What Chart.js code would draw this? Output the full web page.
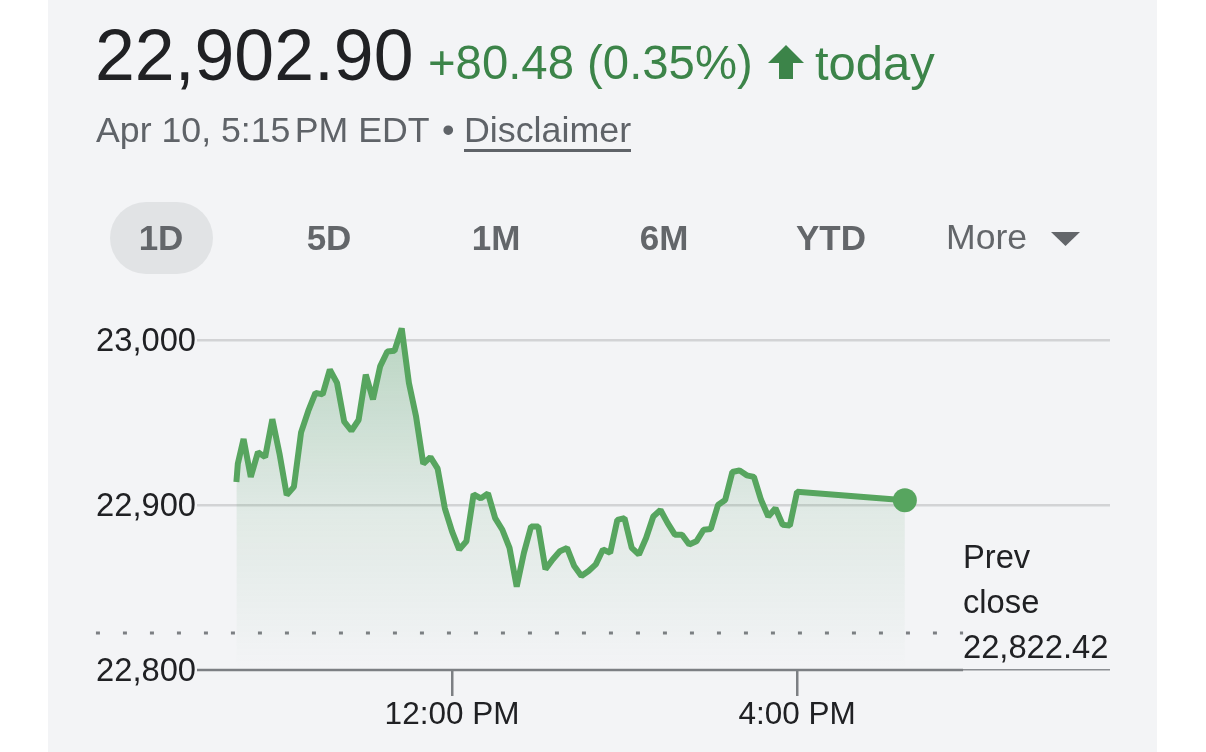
<!DOCTYPE html>
<html><head><meta charset="utf-8">
<script src="https://cdn.jsdelivr.net/npm/chart.js@4"></script>
<style>
html,body{margin:0;padding:0;background:#fff;width:1206px;height:752px;overflow:hidden}
#panel{position:absolute;left:48px;top:0;width:1109px;height:752px;background:#f3f4f6}
#c{position:absolute;left:0;top:0}
.t{position:absolute;font-family:"Liberation Sans",Arial,sans-serif;line-height:1;white-space:nowrap}
.g{color:#3c8449}.s{color:#5f6368}.b{font-weight:700;color:#63666a}
</style></head><body>
<div id="panel"></div>
<canvas id="c" width="1206" height="752"></canvas>
<div class="t" style="left:95px;top:20px;font-size:71.6px;color:#202124">22,902.90</div>
<div class="t g" style="left:428px;top:39px;font-size:47.3px">+80.48 (0.35%)</div>
<svg style="position:absolute;left:768px;top:44px" width="36" height="36"><polygon points="18,1 36,19 25,19 25,35 11,35 11,19 0,19" fill="#3c8449"/></svg>
<div class="t g" style="left:815px;top:39px;font-size:49px">today</div>
<div class="t s" style="left:96px;top:113px;font-size:35.7px">Apr 10, 5:15<span style="margin-left:.12em">PM</span> EDT</div>
<div class="t s" style="left:442px;top:113px;font-size:35.7px">•</div>
<div class="t s" style="left:464px;top:113px;font-size:35.8px;border-bottom:3px solid #5f6368;padding-bottom:0">Disclaimer</div>
<div style="position:absolute;left:110px;top:202px;width:103px;height:72px;border-radius:36px;background:#e1e3e5"></div>
<div class="t b" style="left:111px;width:100px;text-align:center;top:220px;font-size:35px">1D</div>
<div class="t b" style="left:279px;width:100px;text-align:center;top:220px;font-size:35px">5D</div>
<div class="t b" style="left:446px;width:100px;text-align:center;top:220px;font-size:35px">1M</div>
<div class="t b" style="left:614px;width:100px;text-align:center;top:220px;font-size:35px">6M</div>
<div class="t b" style="left:781px;width:100px;text-align:center;top:220px;font-size:35px">YTD</div>
<div class="t" style="left:946px;top:220px;font-size:35.6px;color:#63666a">More</div>
<svg style="position:absolute;left:1051px;top:232px" width="30" height="15"><polygon points="0,0 29,0 14.5,14" fill="#63666a"/></svg>
<div class="t" style="left:963px;top:541px;font-size:32.7px;color:#202124">Prev</div>
<div class="t" style="left:963px;top:586px;font-size:32.7px;color:#202124">close</div>
<div class="t" style="left:963px;top:631px;font-size:32.7px;color:#202124">22,822.42</div>
<script>
// minutes after the 9:30 AM open
const minutes = [0,1,5,10,15,20,25,30,35,40,45,50,55,60,65,70,75,80,85,90,95,100,105,110,115,120,125,130,135,140,145,150,155,160,165,170,175,180,185,190,195,200,205,210,215,220,225,230,235,240,245,250,255,260,265,270,275,280,285,290,295,300,305,310,315,320,325,330,335,340,345,350,355,360,365,370,375,380,385,390,465];
const prices = [22914,22925,22940,22917,22932,22929,22952,22931,22906,22911,22944,22957,22968,22967,22982,22974,22950.5,22945,22951.5,22979,22964,22984,22993,22993.5,23007,22974,22953.5,22925,22929,22922,22898,22884,22873,22878,22906.5,22904,22907,22892,22885,22874,22850.5,22871,22887,22887,22861,22867,22872,22874,22863,22857,22860,22864,22873,22871,22891,22892,22874,22870,22880,22893,22897,22889,22882,22882,22876,22878,22885,22885.5,22900,22903,22920,22921,22918,22917,22903,22893,22898,22888,22887.5,22908,22902.9];
const prevCloseValue = 22822.42;
const prevCloseSpan = [-97.7,505.5];
const baselineSpan = [-27.4,505.5];
const xRange = [-27.4,607.7];
const yRange = [22800,23020];
const yTicks = [22800,22900,23000];
const xTicks = [150,390];
const xTickLabels = ['12:00 PM','4:00 PM'];

const toXY = (xs,ys)=>xs.map((x,i)=>({x,y:Array.isArray(ys)?ys[i]:ys}));
new Chart(document.getElementById('c'),{
  type:'line',
  data:{datasets:[
    {data:toXY(minutes,prices),borderColor:'#57a55f',borderWidth:6,tension:0,borderJoinStyle:'bevel',
     fill:'start',
     backgroundColor:(ctx)=>{const a=ctx.chart.chartArea;if(!a)return 'transparent';
       const g=ctx.chart.ctx.createLinearGradient(0,328,0,670);
       g.addColorStop(0,'rgba(70,150,90,0.33)');g.addColorStop(.55,'rgba(70,150,90,0.10)');g.addColorStop(1,'rgba(70,150,90,0)');return g;},
     pointRadius:(ctx)=>ctx.dataIndex===minutes.length-1?12:0,
     pointBackgroundColor:'#57a55f',pointBorderWidth:0,clip:false,order:1},
    {data:toXY(prevCloseSpan,prevCloseValue),borderColor:'#7c7f83',borderWidth:3,borderDash:[4,23],pointRadius:0,clip:false,fill:false,order:2},
    {data:toXY(baselineSpan,yRange[0]),borderColor:'#7c7f83',borderWidth:2.5,pointRadius:0,clip:false,fill:false,order:3}
  ]},
  options:{
    responsive:false,animation:false,devicePixelRatio:1,
    layout:{padding:{left:96,right:96,top:307,bottom:0}},
    plugins:{legend:{display:false},tooltip:{enabled:false}},
    scales:{
      x:{type:'linear',min:xRange[0],max:xRange[1],
        afterBuildTicks:s=>{s.ticks=xTicks.map(v=>({value:v}));},
        afterFit:s=>{s.height=82;},
        border:{display:false},
        grid:{drawOnChartArea:false,drawTicks:true,tickLength:26,color:'#7c7f83',lineWidth:2.5},
        ticks:{autoSkip:false,maxRotation:0,padding:0,color:'#202124',font:{family:'"Liberation Sans"',size:31.5},
          callback:(v)=>xTickLabels[xTicks.indexOf(v)]}},
      y:{min:yRange[0],max:yRange[1],
        afterBuildTicks:s=>{s.ticks=yTicks.map(v=>({value:v}));},
        afterFit:s=>{s.width=101;},
        border:{display:false},
        grid:{drawTicks:false,color:(c)=>c.tick&&c.tick.value===yRange[0]?'#8b8e92':'#d2d3d5',lineWidth:(c)=>c.tick&&c.tick.value===yRange[0]?1.5:2.5},
        ticks:{padding:1,labelOffset:1.5,color:'#202124',font:{family:'"Liberation Sans"',size:32.7},
          callback:(v)=>v.toLocaleString('en-US')}}
    }
  }
});
</script>
</body></html>
